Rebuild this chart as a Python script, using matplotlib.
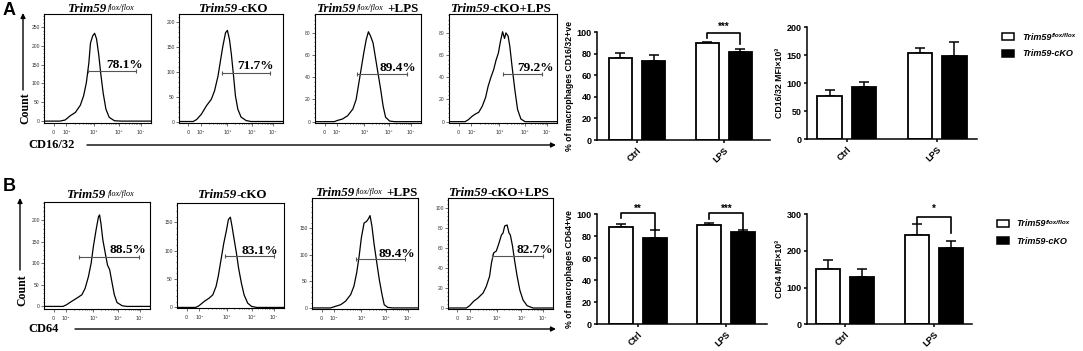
import numpy as np
import matplotlib
matplotlib.use("Agg")
import matplotlib.pyplot as plt
from matplotlib.patches import Rectangle
from matplotlib.ticker import AutoMinorLocator

W, H = 1083, 351
SERIF = "Liberation Serif"
SANS = "Liberation Sans"
plt.rcParams["font.family"] = SANS

# ---- flow histograms (x = position on the cytometer axis in decades, y = count) ----
hist_xticks = [3.54, 4.0, 5.0, 5.91, 6.71]
hist_xticklabels = ["0", "10⁴", "10⁵", "10⁶", "10⁷"]

# CD16/32
a1_x = [3.19, 3.77, 3.96, 4.14, 4.33, 4.51, 4.63, 4.73, 4.82, 4.88, 4.96, 5.03, 5.10,
        5.18, 5.25, 5.34, 5.44, 5.56, 5.75, 5.99, 7.08]
a1_y = [0, 0, 3, 14, 23, 42, 67, 102, 154, 207, 226, 233, 218, 176, 128, 75, 32, 10, 1, 0, 0]
a2_x = [3.19, 3.72, 3.85, 4.03, 4.22, 4.40, 4.52, 4.65, 4.73, 4.83, 4.93, 5.00, 5.08,
        5.15, 5.23, 5.30, 5.39, 5.51, 5.70, 5.88, 7.08]
a2_y = [0, 0, 4, 15, 32, 45, 62, 92, 119, 152, 179, 184, 165, 135, 92, 52, 25, 9, 2, 0, 0]
a3_x = [3.19, 3.90, 4.00, 4.20, 4.39, 4.58, 4.70, 4.78, 4.88, 4.98, 5.07, 5.15, 5.23,
        5.32, 5.40, 5.50, 5.60, 5.69, 5.78, 5.93, 6.12, 7.08]
a3_y = [0, 0, 1, 2.4, 5.4, 11.4, 20, 32, 47, 62, 74, 81, 77, 71, 59, 44, 29, 14, 4, 0.5, 0, 0]
a4_x = [3.19, 3.77, 3.89, 4.02, 4.14, 4.26, 4.39, 4.51, 4.60, 4.70, 4.80, 4.88, 4.97,
        5.04, 5.12, 5.19, 5.24, 5.32, 5.38, 5.46, 5.56, 5.66, 5.78, 5.93, 7.08]
a4_y = [0, 0, 1.8, 4.8, 6.9, 8.4, 14, 22, 32, 40, 47, 55, 62, 72, 81, 75, 80, 77, 68,
        50, 29, 11, 2.4, 0, 0]

# CD64
b1_x = [3.19, 3.89, 4.02, 4.20, 4.39, 4.58, 4.70, 4.82, 4.92, 5.00, 5.10, 5.19, 5.23,
        5.28, 5.35, 5.44, 5.52, 5.60, 5.69, 5.77, 5.87, 6.06, 6.23, 7.08]
b1_y = [0, 0, 4, 11.5, 19, 27, 42, 69, 100, 138, 177, 208, 212, 192, 154, 123, 96, 85,
        54, 27, 9, 1.5, 0, 0]
b2_x = [3.19, 3.87, 3.99, 4.18, 4.36, 4.49, 4.61, 4.69, 4.79, 4.89, 4.98, 5.06, 5.13,
        5.19, 5.26, 5.35, 5.43, 5.53, 5.63, 5.76, 5.90, 6.09, 7.08]
b2_y = [0, 0, 3, 10.6, 16.5, 22, 37, 55, 84, 113, 134, 155, 159, 143, 122, 96, 69, 43,
        22, 7.6, 1.8, 0, 0]
b3_x = [3.19, 3.87, 4.05, 4.24, 4.42, 4.61, 4.73, 4.83, 4.92, 5.00, 5.10, 5.19, 5.26,
        5.32, 5.39, 5.47, 5.57, 5.66, 5.76, 5.84, 5.97, 6.15, 7.08]
b3_y = [0, 0, 3, 6, 12.5, 25, 41, 66, 97, 131, 159, 162, 167, 173, 153, 119, 84, 53, 25,
        6, 1, 0, 0]
b4_x = [3.19, 3.87, 3.99, 4.14, 4.30, 4.49, 4.61, 4.73, 4.80, 4.88, 4.98, 5.08, 5.17,
        5.23, 5.29, 5.38, 5.45, 5.50, 5.58, 5.66, 5.75, 5.85, 5.97, 6.12, 6.34, 7.08]
b4_y = [0, 0, 2.3, 6.7, 10, 15, 21.7, 31.7, 45, 55, 57, 65, 73, 75, 82, 83, 75, 73, 62,
        47, 32, 18, 8, 2.3, 0, 0]

# gates (start, end, count) and the gated percentage
a_gates = [(4.78, 6.55, 132), (4.81, 6.60, 97), (4.73, 6.55, 43), (5.13, 6.55, 43)]
a_pcts = ["78.1%", "71.7%", "89.4%", "79.2%"]
b_gates = [(4.48, 6.67, 115), (4.92, 6.71, 90), (4.79, 6.61, 92), (4.83, 6.71, 52)]
b_pcts = ["88.5%", "83.1%", "89.4%", "82.7%"]

# ---- bar charts (mean, SEM) ----
groups = ["Ctrl", "LPS"]
a_pct_flox, a_pct_flox_sem = [76.3, 89.8], [4.3, 0.7]
a_pct_cko, a_pct_cko_sem = [72.9, 81.5], [5.6, 3.1]
a_mfi_flox, a_mfi_flox_sem = [77.4, 154.8], [10.7, 7.7]
a_mfi_cko, a_mfi_cko_sem = [92.9, 148.8], [10.1, 25.6]
b_pct_flox, b_pct_flox_sem = [88.8, 90.3], [2.1, 1.5]
b_pct_cko, b_pct_cko_sem = [78.2, 83.6], [7.3, 2.2]
b_mfi_flox, b_mfi_flox_sem = [150.0, 243.6], [25.5, 29.1]
b_mfi_cko, b_mfi_cko_sem = [128.2, 209.0], [21.8, 19.2]


fig = plt.figure(figsize=(W / 100, H / 100), dpi=100)


def px(l, t, r, b):
    return [l / W, 1 - b / H, (r - l) / W, (b - t) / H]


# overlay in pixel coordinates for free text, arrows and legends
ov = fig.add_axes([0, 0, 1, 1], zorder=10)
ov.set_xlim(0, W)
ov.set_ylim(H, 0)
ov.axis("off")
ov.patch.set_visible(False)

chains = []


def rich(x, y, parts, ha="center"):
    arts = []
    prev = None
    for s, kw in parts:
        kw = dict(kw)
        dx = kw.pop("dx", 0)
        dy = kw.pop("dy", 0)
        if prev is None:
            prev = ov.text(x, y, s, ha="left", va="baseline", **kw)
        else:
            prev = ov.annotate(s, xy=(1, 0), xycoords=prev, xytext=(dx, dy),
                               textcoords="offset points", ha="left", va="bottom", **kw)
        arts.append(prev)
    chains.append((arts, x, ha))


BI = dict(family=SERIF, weight="bold", style="italic", fontsize=9.4)
B = dict(family=SERIF, weight="bold", fontsize=9.4)
SUP = dict(family=SERIF, style="italic", fontsize=5.9, dx=1.5, dy=2.2)
AFTER_SUP = dict(family=SERIF, weight="bold", fontsize=9.4, dx=2.2, dy=-2.2)

titles = [
    [("Trim59", BI), ("flox/flox", SUP)],
    [("Trim59", BI), ("-cKO", B)],
    [("Trim59", BI), ("flox/flox", SUP), ("+LPS", AFTER_SUP)],
    [("Trim59", BI), ("-cKO+LPS", B)],
]

minor_x = []
for lo, hi in zip(hist_xticks[1:-1], hist_xticks[2:]):
    minor_x += list(lo + (hi - lo) * np.log10(np.arange(2, 10)))


def draw_hist(rect, x, y, yticks, ylim, gate, pct, pct_x, pct_y):
    ax = fig.add_axes(px(*rect))
    ax.plot(x, y, color="k", lw=0.9)
    ax.set_xlim(3.19, 7.08)
    ax.set_ylim(*ylim)
    ax.set_xticks(hist_xticks)
    ax.set_xticklabels(hist_xticklabels, family="DejaVu Sans")
    ax.set_xticks(minor_x, minor=True)
    ax.set_yticks(yticks)
    ax.yaxis.set_minor_locator(AutoMinorLocator(5))
    ax.tick_params(which="both", direction="out", width=0.5, labelsize=3.6,
                   labelcolor="#333", color="#333")
    ax.tick_params(which="major", length=2, pad=1)
    ax.tick_params(which="minor", length=1)
    ax.tick_params(axis="x", pad=3)
    for s in ax.spines.values():
        s.set_linewidth(0.8)
    g0, g1, gy = gate
    ax.plot([g0, g1], [gy, gy], color="#555", lw=0.8, marker="|", ms=3.5, mew=0.8)
    ax.text(pct_x, pct_y, pct, ha="center", va="baseline", family=SERIF,
            weight="bold", fontsize=9.5)
    return ax


a_rects = [(44, 14, 151, 123), (179, 14, 283, 123), (315, 14, 421, 123), (449, 14, 557, 123)]
b_rects = [(44, 202, 150, 309), (177, 203, 284, 308), (312, 198, 418, 309), (448, 198, 553, 309)]

draw_hist(a_rects[0], a1_x, a1_y, [0, 50, 100, 150, 200, 250], (-5, 284), a_gates[0], a_pcts[0], 6.12, 140)
draw_hist(a_rects[1], a2_x, a2_y, [0, 50, 100, 150, 200], (-3, 217), a_gates[1], a_pcts[1], 6.06, 106)
draw_hist(a_rects[2], a3_x, a3_y, [0, 20, 40, 60, 80], (-1.2, 97), a_gates[2], a_pcts[2], 6.22, 46)
draw_hist(a_rects[3], a4_x, a4_y, [0, 20, 40, 60, 80], (-1.2, 97), a_gates[3], a_pcts[3], 6.30, 46)
draw_hist(b_rects[0], b1_x, b1_y, [0, 50, 100, 150, 200], (-6, 242), b_gates[0], b_pcts[0], 6.28, 124)
draw_hist(b_rects[1], b2_x, b2_y, [0, 50, 100, 150], (-1, 184), b_gates[1], b_pcts[1], 6.21, 94)
draw_hist(b_rects[2], b3_x, b3_y, [0, 50, 100, 150], (-2, 206), b_gates[2], b_pcts[2], 6.31, 96)
draw_hist(b_rects[3], b4_x, b4_y, [0, 20, 40, 60, 80, 100], (-1, 110), b_gates[3], b_pcts[3], 6.40, 55)

for t, cx in zip(titles, [101, 233, 367, 501]):
    rich(cx, 12.5, t)
for t, cx, by in zip(titles, [100.5, 232, 366, 498.5], [198, 197.5, 196.5, 196.5]):
    rich(cx, by, t)

# panel letters, Count arrows and marker axes
ov.text(3, 2, "A", fontsize=13, weight="bold", va="top", ha="left")
ov.text(3, 178, "B", fontsize=13, weight="bold", va="top", ha="left")
arr = dict(arrowstyle="-|>", lw=1.0, color="k", mutation_scale=7, shrinkA=0, shrinkB=0)
for x0, ytop, ybot, ycnt in [(23, 13, 90, 108), (20, 198, 270, 290)]:
    ov.annotate("", xy=(x0, ytop), xytext=(x0, ybot), arrowprops=arr)
    ov.text(x0 + 2, ycnt, "Count", rotation=90, ha="center", va="center",
            family=SERIF, weight="bold", fontsize=8.5)
for label, y0, xs in [("CD16/32", 145, 87), ("CD64", 329, 75)]:
    ov.text(28, y0, label, ha="left", va="center", family=SERIF, weight="bold", fontsize=9)
    ov.annotate("", xy=(556, y0), xytext=(xs, y0), arrowprops=arr)


def draw_bars(rect, xlim, flox, flox_sem, cko, cko_sem, ylim, yticks, ylabel, brackets):
    ax = fig.add_axes(px(*rect))
    x = np.arange(len(groups))
    ax.bar(x - 0.19, flox, 0.27, color="white", edgecolor="black", linewidth=1.3, zorder=2)
    ax.bar(x + 0.19, cko, 0.27, color="black", edgecolor="black", linewidth=1.3, zorder=2)
    ax.errorbar(x - 0.19, flox, yerr=[np.zeros(len(x)), flox_sem], fmt="none",
                ecolor="k", elinewidth=1.1, capsize=3.3, capthick=1.1, zorder=1)
    ax.errorbar(x + 0.19, cko, yerr=[np.zeros(len(x)), cko_sem], fmt="none",
                ecolor="k", elinewidth=1.1, capsize=3.3, capthick=1.1, zorder=1)
    ax.set_xlim(*xlim)
    ax.set_ylim(*ylim)
    ax.set_yticks(yticks)
    ax.set_xticks(x)
    ax.set_xticklabels(groups, rotation=45, ha="right", rotation_mode="anchor")
    for s in ["top", "right"]:
        ax.spines[s].set_visible(False)
    for s in ["left", "bottom"]:
        ax.spines[s].set_linewidth(1.1)
    ax.tick_params(direction="out", length=2.5, width=1.1, labelsize=6.5, pad=1.5)
    for lab in ax.get_xticklabels() + ax.get_yticklabels():
        lab.set_fontweight("bold")
    ax.set_ylabel(ylabel, fontsize=6.3, weight="bold", labelpad=2)
    for g, top, lb, rb, stars, ty in brackets:
        ax.plot([g - 0.19, g - 0.19, g + 0.19, g + 0.19], [lb, top, top, rb],
                color="k", lw=1.2, clip_on=False)
        ax.text(g, ty, stars, ha="center", va="center", fontsize=7, weight="bold",
                clip_on=False)
    return ax


draw_bars((597, 32, 770, 140), (-0.46, 1.53), a_pct_flox, a_pct_flox_sem, a_pct_cko,
          a_pct_cko_sem, (0, 100), [0, 20, 40, 60, 80, 100],
          "% of macrophages CD16/32+ve", [(1, 99.4, 94.8, 89.2, "***", 104.6)])
draw_bars((807, 27.3, 977, 139.3), (-0.44, 1.44), a_mfi_flox, a_mfi_flox_sem, a_mfi_cko,
          a_mfi_cko_sem, (0, 200), [0, 50, 100, 150, 200], "CD16/32 MFI×10³", [])
draw_bars((597, 214.3, 767, 324.3), (-0.46, 1.46), b_pct_flox, b_pct_flox_sem, b_pct_cko,
          b_pct_cko_sem, (0, 100), [0, 20, 40, 60, 80, 100],
          "% of macrophages CD64+ve",
          [(0, 100.9, 96.4, 86.0, "**", 104.8), (1, 100.9, 95.5, 86.0, "***", 104.8)])
draw_bars((807, 214.3, 972, 324.3), (-0.43, 1.43), b_mfi_flox, b_mfi_flox_sem, b_mfi_cko,
          b_mfi_cko_sem, (0, 300), [0, 100, 200, 300], "CD64 MFI×10³",
          [(1, 293.6, 275.5, 250.0, "*", 313.6)])

# legends
LBI = dict(family=SANS, weight="bold", style="italic", fontsize=6.5)
LSUP = dict(family=SANS, weight="bold", style="italic", fontsize=4.5, dx=0.3, dy=2.2)
for rx, ry, tx in [(1002, 33, 1022), (997, 220, 1016)]:
    ov.add_patch(Rectangle((rx, ry), 11.5, 6.5, fc="white", ec="k", lw=1.1))
    ov.add_patch(Rectangle((rx, ry + 17), 11.5, 6.5, fc="black", ec="k", lw=1.1))
    rich(tx, ry + 6.5, [("Trim59", LBI), ("flox/flox", LSUP)], ha="left")
    rich(tx, ry + 23.5, [("Trim59-cKO", LBI)], ha="left")

# centre the composed titles
fig.canvas.draw()
r = fig.canvas.get_renderer()
for arts, x, ha in chains:
    if ha == "center":
        x0 = arts[0].get_window_extent(r).x0
        x1 = arts[-1].get_window_extent(r).x1
        arts[0].set_x(x - (x1 - x0) / 2)

fig.savefig("out.png", dpi=100)
